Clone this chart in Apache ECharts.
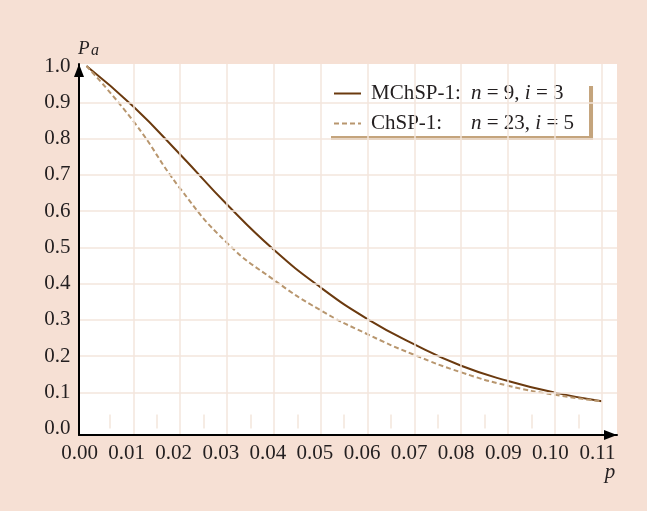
<!DOCTYPE html>
<html><head><meta charset="utf-8">
<script src="https://cdn.jsdelivr.net/npm/echarts@6/dist/echarts.min.js"></script>
<style>html,body{margin:0;padding:0;background:#f6e0d4}#c{width:647px;height:511px}</style>
</head><body><div id="c"></div><script>
// ---- data ----
const pValues = [0, 0.01, 0.02, 0.03, 0.04, 0.05, 0.06, 0.07, 0.08, 0.09, 0.10, 0.11];
const mchspPa = [1.0, 0.888, 0.756, 0.618, 0.493, 0.389, 0.302, 0.232, 0.173, 0.131, 0.099, 0.075];
const chspPa  = [1.0, 0.848, 0.662, 0.512, 0.410, 0.326, 0.260, 0.203, 0.155, 0.118, 0.093, 0.075];
const seriesNames = ['MChSP-1', 'ChSP-1'];
const xTickValues = [0, 0.01, 0.02, 0.03, 0.04, 0.05, 0.06, 0.07, 0.08, 0.09, 0.10, 0.11];
const xTickLabels = ['0.00','0.01','0.02','0.03','0.04','0.05','0.06','0.07','0.08','0.09','0.10','0.11'];
const yTickValues = [0, 0.1, 0.2, 0.3, 0.4, 0.5, 0.6, 0.7, 0.8, 0.9, 1.0];
const yTickLabels = ['0.0','0.1','0.2','0.3','0.4','0.5','0.6','0.7','0.8','0.9','1.0'];
const xGridValues = [0.01, 0.02, 0.03, 0.04, 0.05, 0.06, 0.07, 0.08, 0.09, 0.10, 0.11];
const yGridValues = [0.1, 0.2, 0.3, 0.4, 0.5, 0.6, 0.7, 0.8, 0.9];

// ---- layout ----
const frame = {l: 79, r: 617, t: 64, b: 435};      // white plot box
const data = {x0: 86.5, x1: 601.7, y0: 428.5, y1: 66}; // pixel of p=0/0.11, Pa=0/1
const xMax = 0.11, yMax = 1.0;
const xPerPx = xMax / (data.x1 - data.x0), yPerPx = yMax / (data.y0 - data.y1);
const xMinA = -(data.x0 - frame.l) * xPerPx, xMaxA = xMax + (frame.r - data.x1) * xPerPx;
const yMinA = -(frame.b - data.y0) * yPerPx, yMaxA = yMax + (data.y1 - frame.t) * yPerPx;

const FONT = 'Liberation Serif';
const TXT = '#231f20';
const GRIDC = '#f3e6dc';
const SOLID = '#6b3a0f', DASH = '#b8966e';

const chart = echarts.init(document.getElementById('c'), null, {renderer: 'canvas'});
const lbl = (vals, labels) => v => { let i = vals.findIndex(t => Math.abs(t - v) < 1e-9); return i < 0 ? '' : labels[i]; };
const rt = {fontFamily: FONT, fontSize: 21, color: TXT};
const legendText = {
  'MChSP-1': '{a|MChSP-1:}{i|n}{r| = 9, }{i|i}{r| = 3}',
  'ChSP-1': '{a|ChSP-1:}{i|n}{r| = 23, }{i|i}{r| = 5}'
};

chart.setOption({
  animation: false,
  backgroundColor: '#f6e0d4',
  grid: [
    {left: frame.l, top: frame.t, width: frame.r - frame.l, height: frame.b - frame.t, show: true, backgroundColor: '#fff', borderWidth: 0},
    {left: data.x0, top: data.y1, width: data.x1 - data.x0, height: data.y0 - data.y1},
    {left: 79.5, top: frame.t, width: 518, height: frame.b - frame.t}
  ],
  xAxis: [
    {gridIndex: 0, type: 'value', min: xMinA, max: xMaxA, z: 5,
     axisLine: {show: true, onZero: false, lineStyle: {color: '#000', width: 2}, symbol: ['none', 'triangle'], symbolSize: [10, 13], symbolOffset: [0, -6.5]},
     axisTick: {show: false}, axisLabel: {show: false}, splitLine: {show: false}},
    {gridIndex: 1, type: 'value', min: 0, max: xMax, interval: 0.01, offset: frame.b - data.y0,
     axisLine: {show: false}, axisTick: {show: false, inside: true}, axisLabel: {show: false}, splitLine: {show: false},
     minorTick: {show: true, splitNumber: 2, length: 14, lineStyle: {color: GRIDC, width: 1.5}}},
    {gridIndex: 2, type: 'value', min: 0, max: xMax, interval: 0.01,
     axisLine: {show: false}, axisTick: {show: false}, splitLine: {show: false},
     axisLabel: {show: true, margin: 8, fontFamily: FONT, fontSize: 21, color: TXT, formatter: lbl(xTickValues, xTickLabels)}}
  ],
  yAxis: [
    {gridIndex: 0, type: 'value', min: yMinA, max: yMaxA, z: 5,
     axisLine: {show: true, onZero: false, lineStyle: {color: '#000', width: 2}, symbol: ['none', 'triangle'], symbolSize: [10, 13], symbolOffset: [0, -6.5]},
     axisTick: {show: false}, axisLabel: {show: false}, splitLine: {show: false}},
    {gridIndex: 1, type: 'value', min: 0, max: yMax, interval: 0.1,
     axisLine: {show: false}, axisTick: {show: false}, splitLine: {show: false},
     axisLabel: {show: true, margin: 16, padding: [5, 0, 0, 0], fontFamily: FONT, fontSize: 21, color: TXT, formatter: lbl(yTickValues, yTickLabels)}},
    {gridIndex: 2, type: 'value', min: 0, max: 1, show: false}
  ],
  legend: {
    data: seriesNames,
    orient: 'vertical', left: 327, top: 82,
    padding: [1, 15, 2, 6], itemGap: 9, itemWidth: 27, itemHeight: 14,
    backgroundColor: '#fff', shadowColor: '#c4a47c', shadowOffsetX: 4, shadowOffsetY: 4, shadowBlur: 0,
    selectedMode: false,
    itemStyle: {opacity: 0},
    lineStyle: {width: 2},
    formatter: n => legendText[n],
    textStyle: Object.assign({lineHeight: 20, rich: {
      a: Object.assign({width: 100, padding: [0, 0, 0, 5]}, rt),
      i: Object.assign({fontStyle: 'italic'}, rt),
      r: Object.assign({}, rt)
    }}, rt)
  },
  graphic: [
    {type: 'text', x: 78, y: 48.6, silent: true, style: {text: 'P', font: 'italic 19px "Liberation Serif"', fill: TXT, verticalAlign: 'middle', align: 'left'}},
    {type: 'text', x: 91, y: 51.1, silent: true, style: {text: 'a', font: 'italic 16px "Liberation Serif"', fill: TXT, verticalAlign: 'middle', align: 'left'}},
    {type: 'text', x: 610, y: 472, silent: true, style: {text: 'p', font: 'italic 21px "Liberation Serif"', fill: TXT, verticalAlign: 'middle', align: 'center'}}
  ],
  series: [
    {type: 'line', xAxisIndex: 0, yAxisIndex: 0, data: [], z: 1, silent: true,
     markLine: {silent: true, animation: false, symbol: ['none', 'none'], label: {show: false},
       lineStyle: {color: GRIDC, width: 1.5, type: 'solid'},
       data: xGridValues.map(v => ({xAxis: v})).concat(yGridValues.map(v => ({yAxis: v})))}},
    {name: seriesNames[0], type: 'line', xAxisIndex: 1, yAxisIndex: 1, z: 3, smooth: true, symbol: 'none',
     lineStyle: {color: SOLID, width: 2}, itemStyle: {color: SOLID},
     data: pValues.map((p, i) => [p, mchspPa[i]])},
    {name: seriesNames[1], type: 'line', xAxisIndex: 1, yAxisIndex: 1, z: 3, smooth: true, symbol: 'none',
     lineStyle: {color: DASH, width: 2, type: [5, 3]}, itemStyle: {color: DASH},
     data: pValues.map((p, i) => [p, chspPa[i]])}
  ]
});
</script></body></html>
